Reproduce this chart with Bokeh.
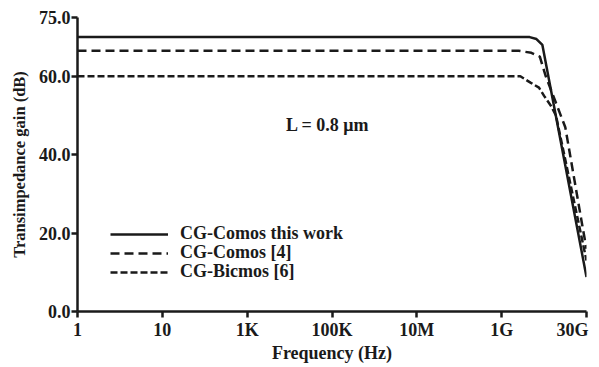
from bokeh.plotting import figure
from bokeh.models import FixedTicker, Label, Legend, LegendItem
from bokeh.embed import file_html
from bokeh.resources import INLINE

# x positions are on the equally spaced tick scale of the original chart
x_tick_labels = ["1", "10", "1K", "100K", "10M", "1G", "30G"]
y_ticks = [0, 20, 40, 60, 75]
y_tick_labels = ["0.0", "20.0", "40.0", "60.0", "75.0"]

series_names = ["CG-Comos this work", "CG-Comos [4]", "CG-Bicmos [6]"]

x_this = [0, 5.33, 5.41, 5.48, 6.0]
y_this = [70, 70, 69.5, 68, 8.8]

x_ref4 = [0, 5.2, 5.35, 5.45, 5.52, 5.75, 5.95, 6.0]
y_ref4 = [66.5, 66.5, 66, 65, 60, 47, 22, 16]

x_ref6 = [0, 5.22, 5.34, 5.44, 5.50, 5.58, 5.64, 6.0]
y_ref6 = [60, 60, 58.4, 57.1, 55, 52.5, 50, 13]

FONT = "Liberation Serif"
FS = "18px"
STYLE = "bold"
INK = "#1a1a1a"

p = figure(width=597, height=365, output_backend="svg", toolbar_location=None,
           x_range=(0, 6), y_range=(0, 75),
           min_border_left=77, min_border_right=11, min_border_top=17, min_border_bottom=50)
p.outline_line_color = None
p.grid.visible = False
p.background_fill_color = "white"

r1 = p.line(x_this, y_this, line_color=INK, line_width=2.5)
r2 = p.line(x_ref4, y_ref4, line_color=INK, line_width=2.5, line_dash="9 5")
r3 = p.line(x_ref6, y_ref6, line_color=INK, line_width=2.5, line_dash="7 3")

xa = p.xaxis[0]
xa.ticker = FixedTicker(ticks=list(range(len(x_tick_labels))))
# the last label is padded on its right so that it stays inside the page, as in the original
xa.major_label_overrides = {i: (lab if i < len(x_tick_labels) - 1 else lab + "\u00a0\u00a0")
                            for i, lab in enumerate(x_tick_labels)}
xa.axis_label = "Frequency (Hz)"

ya = p.yaxis[0]
ya.ticker = FixedTicker(ticks=y_ticks)
ya.major_label_overrides = {t: lab for t, lab in zip(y_ticks, y_tick_labels)}
ya.axis_label = "Transimpedance gain (dB)"

for ax in (xa, ya):
    ax.axis_line_width = 2.5
    ax.axis_line_color = INK
    ax.major_tick_line_width = 2.5
    ax.major_tick_line_color = INK
    ax.major_tick_out = 6
    ax.major_tick_in = 0
    ax.minor_tick_line_color = None
    ax.major_label_text_font = FONT
    ax.major_label_text_font_size = FS
    ax.major_label_text_font_style = STYLE
    ax.major_label_text_color = INK
    ax.axis_label_text_font = FONT
    ax.axis_label_text_font_size = FS
    ax.axis_label_text_font_style = STYLE
    ax.axis_label_text_color = INK
xa.major_label_standoff = 2
xa.axis_label_standoff = 0
ya.major_label_standoff = 1
ya.axis_label_standoff = 7
ya.axis_label_text_font_size = "16.5px"

p.add_layout(Label(x=2.95, y=47.5, text="L = 0.8 μm", text_align="center", text_baseline="middle",
                   text_font=FONT, text_font_size=FS, text_font_style=STYLE, text_color=INK))

# one legend per row so the rows sit as close together as in the original
row_y = [67, 48, 29]
for name, rend, ly in zip(series_names, [r1, r2, r3], row_y):
    lg = Legend(items=[LegendItem(label=name, renderers=[rend])],
                location=(33, ly), background_fill_alpha=0, border_line_color=None,
                label_text_font=FONT, label_text_font_size=FS, label_text_font_style=STYLE,
                label_text_color=INK, glyph_width=58, glyph_height=18, label_height=18,
                label_standoff=12, spacing=0, padding=0, margin=0)
    p.add_layout(lg, "center")

open("out.html", "w").write(file_html(p, INLINE))
